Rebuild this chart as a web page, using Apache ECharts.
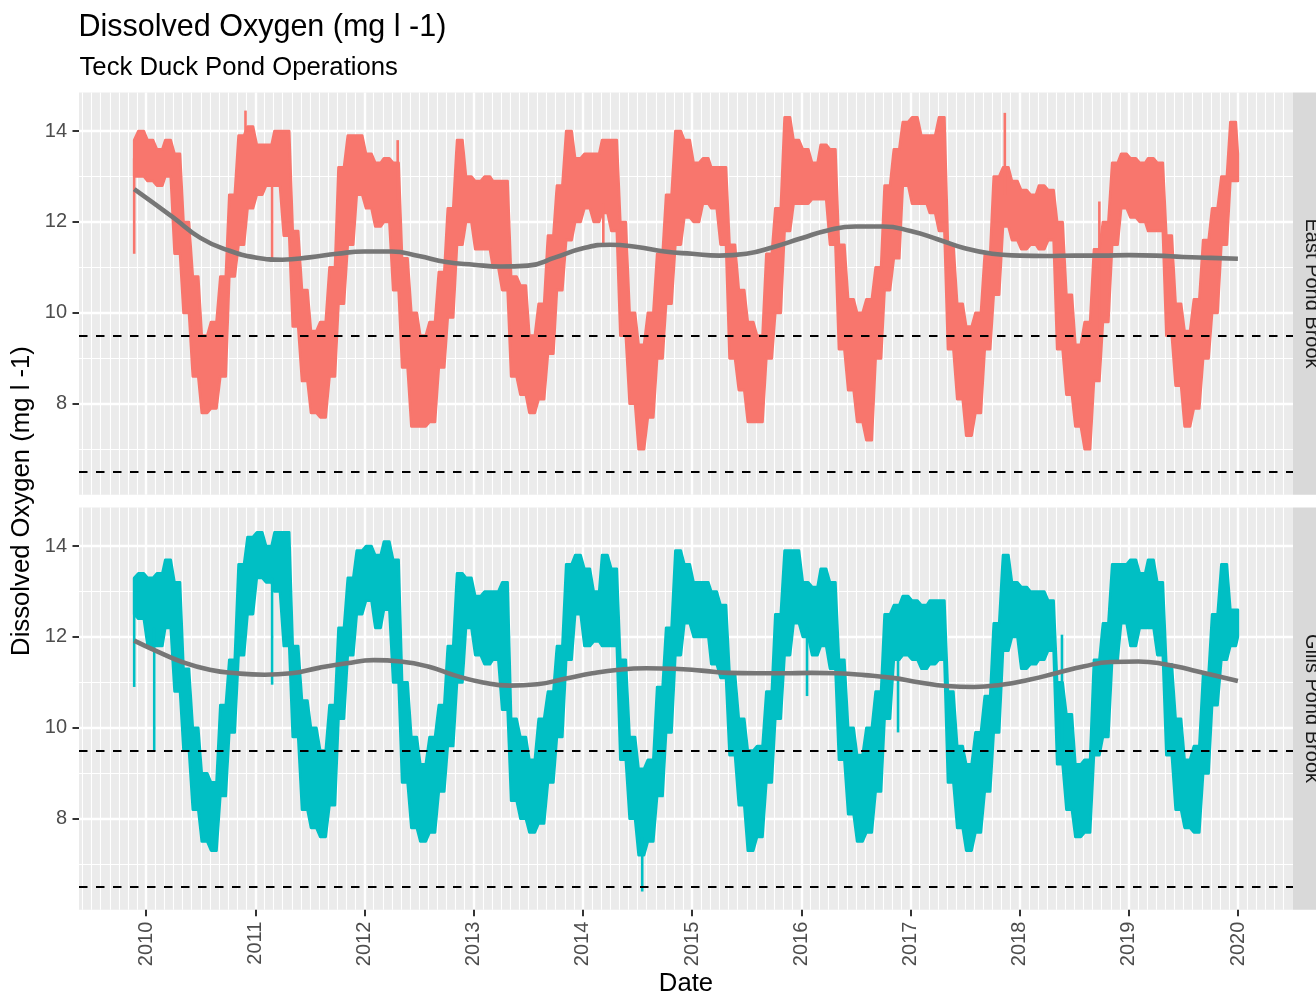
<!DOCTYPE html>
<html>
<head>
<meta charset="utf-8">
<title>Dissolved Oxygen</title>
<script src="https://cdn.jsdelivr.net/npm/echarts@6/dist/echarts.min.js"></script>
<style>
  html, body { margin: 0; padding: 0; background: #ffffff; }
  #chart { width: 1316px; height: 995px; }
</style>
</head>
<body>
<div id="chart"></div>
<script>
// ---------------- data ----------------
const siteNames = ['East Pond Brook', 'Gills Pond Brook'];
const yearTicks = [2010, 2011, 2012, 2013, 2014, 2015, 2016, 2017, 2018, 2019, 2020];
const yTicks = [8, 10, 12, 14];
const thresholds = [9.5, 6.5];

// record start / end, monthly ranges centred on the 15th (Dec 2009 .. Dec 2019) in between
const firstDate = '2009-11-22';
const lastDate = '2019-12-31';

// monthly maximum / minimum of the logger record (mg/L)
const eastHigh = [
  13.8, 14.0,
  13.8, 13.6, 13.8, 13.5, 12.0, 10.8, 9.5, 9.8, 10.8, 12.6, 13.9, 14.1,
  13.7, 13.7, 14.0, 14.0, 11.8, 10.5, 9.6, 9.8, 11.0, 13.2, 13.9, 13.9,
  13.5, 13.3, 13.4, 13.3, 11.2, 10.0, 9.5, 9.8, 10.9, 12.3, 13.8, 13.0,
  12.9, 13.0, 12.9, 12.9, 10.8, 10.6, 9.5, 10.2, 11.7, 12.8, 14.0, 13.4,
  13.5, 13.5, 13.8, 13.8, 12.0, 10.0, 9.3, 10.0, 11.3, 12.6, 14.0, 13.8,
  13.3, 13.4, 13.2, 13.2, 11.5, 10.5, 9.8, 9.5, 11.3, 12.3, 14.3, 13.8,
  13.6, 13.3, 13.7, 13.6, 11.5, 10.3, 10.0, 10.3, 11.0, 12.8, 13.6, 14.2,
  14.3, 13.9, 13.9, 14.3, 11.5, 10.2, 9.7, 10.0, 11.3, 13.0, 13.2, 12.9,
  12.7, 12.6, 12.8, 12.7, 12.0, 10.4, 9.3, 9.8, 11.4, 12.0, 13.3, 13.5,
  13.4, 13.3, 13.4, 13.3, 11.7, 10.2, 9.6, 10.3, 11.6, 12.3, 13.0, 14.2,
  13.5
];
const eastLow = [
  13.0, 13.0,
  12.9, 12.8, 13.0, 11.3, 10.0, 8.6, 7.8, 7.9, 8.6, 10.8, 11.5, 12.3,
  12.6, 12.8, 12.8, 11.7, 9.7, 8.5, 7.8, 7.7, 8.6, 10.2, 11.5, 12.6,
  12.3, 11.9, 12.0, 10.5, 8.8, 7.5, 7.5, 7.6, 8.8, 9.9, 11.5, 12.0,
  11.4, 11.4, 11.0, 10.5, 8.6, 8.2, 7.8, 8.1, 9.1, 10.5, 11.6, 12.0,
  12.3, 12.0, 12.2, 11.8, 9.5, 8.0, 7.0, 7.7, 9.0, 10.2, 11.5, 12.1,
  12.0, 12.4, 12.3, 11.5, 9.0, 8.3, 7.6, 7.6, 9.0, 10.0, 11.8, 12.4,
  12.4, 12.5, 12.5, 11.5, 9.2, 8.3, 7.6, 7.2, 9.0, 10.5, 11.2, 12.8,
  12.4, 12.4, 12.2, 11.8, 9.2, 8.1, 7.3, 7.8, 9.2, 10.4, 11.9, 11.6,
  11.4, 11.5, 11.4, 11.6, 9.2, 8.2, 7.5, 7.0, 8.5, 9.8, 11.5, 12.3,
  12.1, 12.0, 11.8, 11.8, 9.5, 8.4, 7.5, 7.9, 9.0, 10.0, 11.5, 12.9,
  12.9
];
const gillsHigh = [
  13.3, 13.4,
  13.3, 13.4, 13.7, 13.2, 11.3, 10.0, 9.0, 8.8, 10.5, 11.5, 13.6, 14.2,
  14.3, 14.0, 14.3, 14.3, 11.8, 10.6, 10.0, 9.5, 10.5, 12.2, 13.3, 13.9,
  14.0, 13.8, 14.1, 13.7, 11.0, 9.8, 9.2, 9.8, 10.5, 11.8, 13.4, 13.3,
  12.9, 13.0, 13.0, 13.2, 10.2, 9.8, 9.3, 10.2, 10.8, 11.8, 13.6, 13.8,
  13.5, 13.0, 13.8, 13.5, 11.5, 9.8, 9.1, 9.3, 10.9, 12.2, 13.9, 13.6,
  13.2, 13.2, 13.0, 12.7, 11.2, 10.2, 9.5, 9.6, 10.8, 12.5, 13.9, 13.9,
  13.2, 13.1, 13.5, 13.2, 11.5, 10.0, 9.4, 10.0, 10.8, 12.5, 12.7, 12.9,
  12.8, 12.7, 12.8, 12.8, 10.8, 9.6, 9.2, 9.9, 10.7, 12.3, 13.8, 13.2,
  13.1, 13.0, 13.0, 12.8, 11.0, 10.3, 9.2, 9.3, 11.5, 12.3, 13.6, 13.6,
  13.7, 13.4, 13.7, 13.2, 11.4, 10.2, 9.3, 9.6, 11.2, 12.5, 13.6, 12.6,
  12.6
];
const gillsLow = [
  12.5, 12.4,
  11.8, 11.8, 12.2, 10.8, 9.5, 8.2, 7.5, 7.3, 8.5, 9.9, 11.6, 12.5,
  13.3, 13.2, 13.0, 11.8, 9.8, 8.2, 7.8, 7.6, 8.3, 10.2, 11.6, 12.5,
  12.8, 12.2, 12.6, 11.0, 8.8, 7.8, 7.5, 7.7, 8.6, 9.6, 11.0, 12.2,
  11.6, 11.4, 11.5, 10.4, 8.4, 8.0, 7.7, 7.9, 8.8, 9.8, 11.5, 12.5,
  11.8, 11.9, 11.8, 11.8, 9.3, 8.0, 7.2, 7.5, 8.5, 9.9, 11.6, 12.3,
  12.0, 12.0, 11.4, 11.1, 9.4, 8.3, 7.3, 7.6, 8.8, 10.2, 11.6, 12.3,
  12.0, 11.6, 11.8, 11.3, 9.3, 8.1, 7.5, 7.7, 8.6, 10.2, 11.5, 11.6,
  11.5, 11.3, 11.4, 11.5, 8.8, 7.8, 7.3, 7.7, 8.6, 9.9, 11.7, 12.0,
  11.3, 11.4, 11.5, 11.7, 9.2, 8.2, 7.6, 7.7, 9.4, 9.8, 11.5, 12.3,
  11.8, 12.2, 12.2, 11.6, 9.4, 8.2, 7.8, 7.7, 9.0, 10.5, 11.5, 11.8,
  12.0
];

// short excursions beyond the monthly range: [date, from, to]
const eastSpikes = [
  ['2009-11-22', 11.3, 13.4],
  ['2010-11-29', 13.5, 14.45],
  ['2011-02-26', 11.2, 12.9],
  ['2012-04-21', 12.5, 13.8],
  ['2014-03-10', 11.5, 12.4],
  ['2017-11-12', 12.6, 14.4],
  ['2018-09-24', 9.0, 12.45]
];
const gillsSpikes = [
  ['2009-11-22', 10.9, 13.3],
  ['2010-01-28', 9.5, 12.2],
  ['2011-02-26', 10.95, 13.3],
  ['2014-07-18', 6.4, 7.6],
  ['2016-01-20', 10.7, 12.2],
  ['2016-11-20', 9.9, 11.7],
  ['2018-05-22', 9.6, 12.05]
];

// smoothed trend
const eastSmoothDates = ['2009-11-22', '2010-04-01', '2010-07-01', '2010-10-01', '2011-01-01', '2011-04-01',
  '2011-07-01', '2011-10-01', '2012-01-01', '2012-04-01', '2012-07-01', '2012-10-01', '2013-01-01',
  '2013-04-01', '2013-07-01', '2013-10-01', '2014-01-01', '2014-04-01', '2014-07-01', '2014-10-01',
  '2015-01-01', '2015-04-01', '2015-07-01', '2015-10-01', '2016-01-01', '2016-04-01', '2016-07-01',
  '2016-10-01', '2017-01-01', '2017-04-01', '2017-07-01', '2017-10-01', '2018-01-01', '2018-04-01',
  '2018-07-01', '2018-10-01', '2019-01-01', '2019-04-01', '2019-07-01', '2019-10-01', '2019-12-31'];
const eastSmooth = [12.72, 12.10, 11.65, 11.38, 11.22, 11.17,
  11.22, 11.30, 11.35, 11.35, 11.25, 11.12, 11.06,
  11.02, 11.04, 11.22, 11.42, 11.50, 11.45, 11.35,
  11.30, 11.26, 11.30, 11.45, 11.64, 11.82, 11.90,
  11.90, 11.80, 11.62, 11.42, 11.30, 11.26, 11.25,
  11.26, 11.26, 11.27, 11.26, 11.23, 11.21, 11.19];
const gillsSmoothDates = ['2009-11-22', '2010-02-01', '2010-05-01', '2010-08-01', '2010-11-01', '2011-02-01',
  '2011-05-01', '2011-08-01', '2011-11-01', '2012-02-01', '2012-05-01', '2012-08-01', '2012-11-01',
  '2013-02-01', '2013-05-01', '2013-08-01', '2013-11-01', '2014-02-01', '2014-05-01', '2014-08-01',
  '2014-11-01', '2015-02-01', '2015-05-01', '2015-08-01', '2015-11-01', '2016-02-01', '2016-05-01',
  '2016-08-01', '2016-11-01', '2017-02-01', '2017-05-01', '2017-08-01', '2017-11-01', '2018-02-01',
  '2018-05-01', '2018-08-01', '2018-11-01', '2019-02-01', '2019-05-01', '2019-08-01', '2019-12-31'];
const gillsSmooth = [11.92, 11.70, 11.45, 11.28, 11.20, 11.17,
  11.20, 11.32, 11.42, 11.49, 11.46, 11.35, 11.15,
  11.00, 10.93, 10.96, 11.08, 11.20, 11.28, 11.31,
  11.30, 11.26, 11.21, 11.20, 11.20, 11.21, 11.20,
  11.16, 11.10, 11.00, 10.92, 10.90, 10.95, 11.06,
  11.20, 11.35, 11.45, 11.46, 11.40, 11.27, 11.03];

// ---------------- helpers ----------------
const FONT = '"Liberation Sans", Arial, Helvetica, sans-serif';
const COLORS = ['#F8766D', '#00BFC4'];
const SMOOTH_COLOR = '#767676';

// date string -> decimal year
function decYear(s) {
  const [y, m, d] = s.split('-').map(Number);
  const a = Date.UTC(y, 0, 1), b = Date.UTC(y + 1, 0, 1);
  return y + (Date.UTC(y, m - 1, d) - a) / (b - a);
}

const sampleDates = [firstDate];
for (let k = 0; k < 121; k++) {
  const n = 11 + k;
  const y = 2009 + Math.floor(n / 12);
  const m = (n % 12) + 1;
  sampleDates.push(y + '-' + String(m).padStart(2, '0') + '-15');
}
sampleDates.push(lastDate);
const sampleX = sampleDates.map(decYear);

// each monthly range is held flat over the central 60 % of its month
const HOLD = 0.3 / 12;

const X_MIN = 2009.385, X_MAX = 2020.502;
const Y_MIN = 6.0, Y_MAX = 14.85;

const GRID_LEFT = 79, GRID_W = 1214, GRID_H = 402.3;
const GRID_TOPS = [92.4, 507.4];

function xAxis(idx, showLabels) {
  return {
    type: 'value', gridIndex: idx, min: X_MIN, max: X_MAX, splitNumber: 12,
    axisLine: { show: false },
    axisTick: { show: showLabels, customValues: yearTicks, length: 6.5,
      lineStyle: { color: '#333333', width: 2 } },
    axisLabel: { show: showLabels, customValues: yearTicks, rotate: 90, margin: 12,
      color: '#4D4D4D', fontSize: 20, fontFamily: FONT,
      formatter: v => String(Math.round(v)) },
    splitLine: { show: true, lineStyle: { color: '#FFFFFF', width: 2.4 } },
    minorTick: { show: false, splitNumber: 12 },
    minorSplitLine: { show: true, lineStyle: { color: '#FFFFFF', width: 1.1 } }
  };
}

function yAxis(idx) {
  return {
    type: 'value', gridIndex: idx, min: Y_MIN, max: Y_MAX, splitNumber: 5,
    axisLine: { show: false },
    axisTick: { show: true, customValues: yTicks, length: 6.5,
      lineStyle: { color: '#333333', width: 2 } },
    axisLabel: { customValues: yTicks, margin: 12, color: '#4D4D4D', fontSize: 20, fontFamily: FONT },
    splitLine: { show: true, lineStyle: { color: '#FFFFFF', width: 2.4 } },
    minorTick: { show: false, splitNumber: 2 },
    minorSplitLine: { show: true, lineStyle: { color: '#FFFFFF', width: 1.1 } }
  };
}

// filled monthly range of the logger record, outlined with the record's line width
function bandSeries(idx, color, high, low) {
  const last = sampleX.length - 1;
  const spans = i => (i === 0 || i === last) ? [sampleX[i]] : [sampleX[i] - HOLD, sampleX[i] + HOLD];
  return {
    type: 'custom', xAxisIndex: idx, yAxisIndex: idx, z: 2, silent: true,
    data: sampleX.map((x, i) => [x, high[i], low[i]]),
    encode: { x: 0, y: [1, 2] },
    renderItem(params, api) {
      if (params.dataIndex !== 0) return null;
      const pts = [];
      for (let i = 0; i <= last; i++) {
        spans(i).forEach(x => pts.push(api.coord([x, high[i]])));
      }
      for (let i = last; i >= 0; i--) {
        spans(i).reverse().forEach(x => pts.push(api.coord([x, low[i]])));
      }
      return {
        type: 'polygon', shape: { points: pts },
        style: { fill: color, stroke: color, lineWidth: 2.6, lineJoin: 'round' }
      };
    }
  };
}

function spikeSeries(idx, color, spikes) {
  return {
    type: 'custom', xAxisIndex: idx, yAxisIndex: idx, z: 3, silent: true,
    data: spikes.map(s => [decYear(s[0]), s[1], s[2]]),
    encode: { x: 0, y: [1, 2] },
    renderItem(params, api) {
      const p1 = api.coord([api.value(0), api.value(1)]);
      const p2 = api.coord([api.value(0), api.value(2)]);
      return {
        type: 'line', shape: { x1: p1[0], y1: p1[1], x2: p2[0], y2: p2[1] },
        style: { stroke: color, lineWidth: 2.6 }
      };
    }
  };
}

function smoothSeries(idx, dates, values) {
  return {
    type: 'line', xAxisIndex: idx, yAxisIndex: idx, z: 4, silent: true,
    smooth: 0.5, symbol: 'none',
    data: dates.map((d, i) => [decYear(d), values[i]]),
    lineStyle: { color: SMOOTH_COLOR, width: 4.6 },
    markLine: {
      silent: true, symbol: ['none', 'none'], label: { show: false },
      lineStyle: { color: '#000000', type: [8.5, 8.5], width: 2 },
      data: thresholds.map(v => ({ yAxis: v }))
    }
  };
}

// strip panels on the right of each facet
const stripGraphics = [];
GRID_TOPS.forEach((top, i) => {
  stripGraphics.push({
    type: 'rect', silent: true, z: 10,
    shape: { x: GRID_LEFT + GRID_W, y: top, width: 40, height: GRID_H },
    style: { fill: '#D9D9D9' }
  });
  stripGraphics.push({
    type: 'text', silent: true, z: 11,
    x: 1311.5, y: top + GRID_H / 2, rotation: -Math.PI / 2,
    style: { text: siteNames[i], fill: '#1A1A1A', font: '20px ' + FONT,
      textAlign: 'center', textVerticalAlign: 'middle' }
  });
});

const option = {
  animation: false,
  backgroundColor: '#FFFFFF',
  grid: GRID_TOPS.map(top => ({
    left: GRID_LEFT, top: top, width: GRID_W, height: GRID_H,
    show: true, backgroundColor: '#EBEBEB', borderWidth: 0,
    containLabel: false, outerBoundsMode: 'none'
  })),
  xAxis: [xAxis(0, false), xAxis(1, true)],
  yAxis: [yAxis(0), yAxis(1)],
  series: [
    bandSeries(0, COLORS[0], eastHigh, eastLow),
    spikeSeries(0, COLORS[0], eastSpikes),
    smoothSeries(0, eastSmoothDates, eastSmooth),
    bandSeries(1, COLORS[1], gillsHigh, gillsLow),
    spikeSeries(1, COLORS[1], gillsSpikes),
    smoothSeries(1, gillsSmoothDates, gillsSmooth)
  ],
  graphic: [
    { type: 'text', silent: true, x: 78.5, y: 28,
      style: { text: 'Dissolved Oxygen (mg l -1)', fill: '#000000', font: '30.5px ' + FONT,
        textAlign: 'left', textVerticalAlign: 'middle' } },
    { type: 'text', silent: true, x: 79.5, y: 68,
      style: { text: 'Teck Duck Pond Operations', fill: '#000000', font: '25.7px ' + FONT,
        textAlign: 'left', textVerticalAlign: 'middle' } },
    { type: 'text', silent: true, x: 22, y: 501, rotation: Math.PI / 2,
      style: { text: 'Dissolved Oxygen (mg l -1)', fill: '#000000', font: '25.7px ' + FONT,
        textAlign: 'center', textVerticalAlign: 'middle' } },
    { type: 'text', silent: true, x: 686, y: 984,
      style: { text: 'Date', fill: '#000000', font: '25.7px ' + FONT,
        textAlign: 'center', textVerticalAlign: 'middle' } }
  ].concat(stripGraphics)
};

const chart = echarts.init(document.getElementById('chart'), null, { renderer: 'canvas' });
chart.setOption(option);
</script>
</body>
</html>
